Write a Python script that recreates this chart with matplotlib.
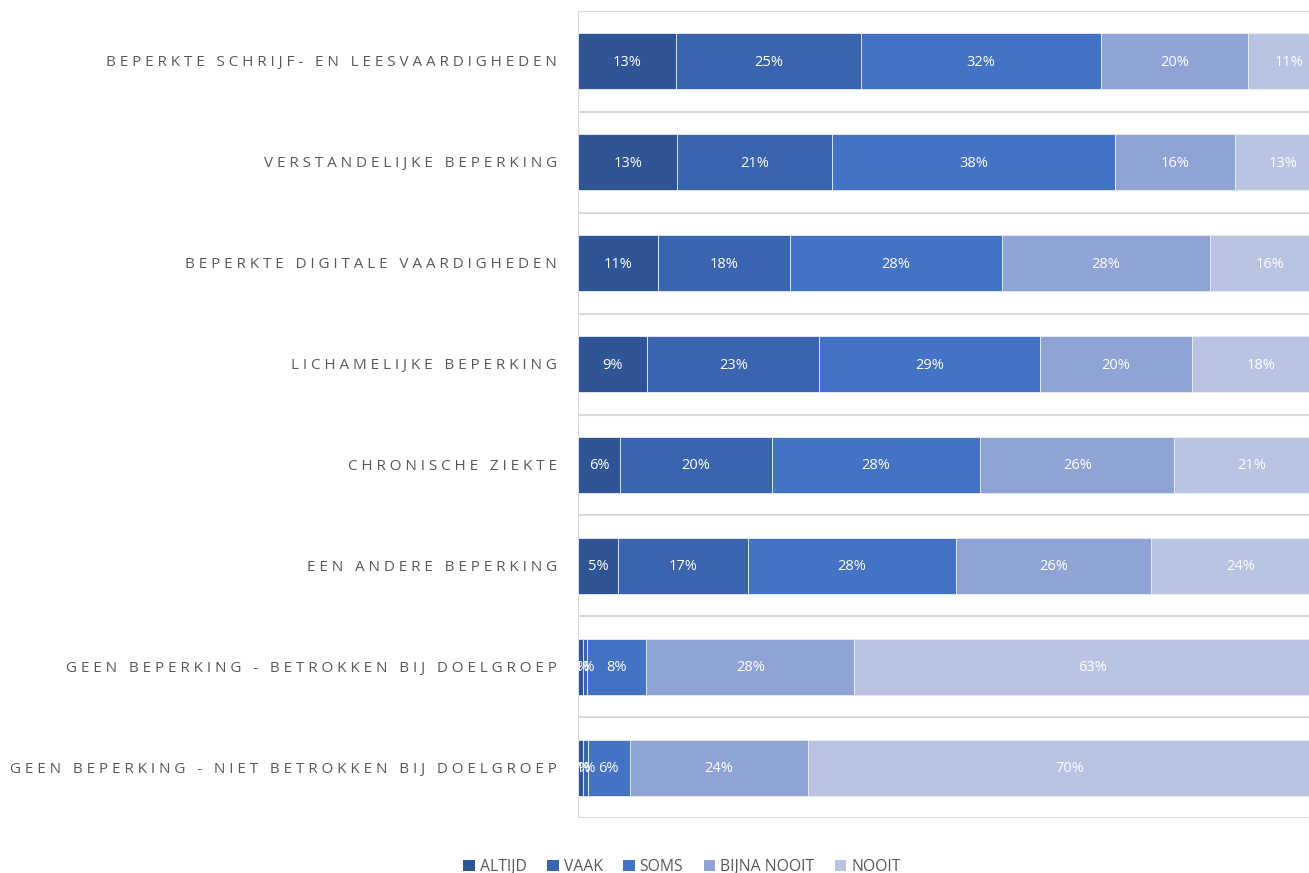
import matplotlib
matplotlib.use("Agg")
import matplotlib.pyplot as plt
from matplotlib.patches import Patch

categories = [
    "BEPERKTE SCHRIJF- EN LEESVAARDIGHEDEN",
    "VERSTANDELIJKE BEPERKING",
    "BEPERKTE DIGITALE VAARDIGHEDEN",
    "LICHAMELIJKE BEPERKING",
    "CHRONISCHE ZIEKTE",
    "EEN ANDERE BEPERKING",
    "GEEN BEPERKING - BETROKKEN BIJ DOELGROEP",
    "GEEN BEPERKING - NIET BETROKKEN BIJ DOELGROEP",
]
series_names = ["ALTIJD", "VAAK", "SOMS", "BIJNA NOOIT", "NOOIT"]
altijd = [13.0, 13.2, 10.6, 9.2, 5.6, 5.3, 0.6, 0.7]
vaak = [24.6, 20.6, 17.6, 22.9, 20.2, 17.3, 0.6, 0.6]
soms = [31.9, 37.6, 28.2, 29.3, 27.7, 27.7, 7.9, 5.6]
bijna_nooit = [19.6, 16.0, 27.6, 20.3, 25.8, 25.9, 27.6, 23.7]
nooit = [10.9, 12.6, 16.0, 18.3, 20.7, 23.8, 63.4, 69.7]
series = [altijd, vaak, soms, bijna_nooit, nooit]
colors = ["#2F5597", "#3A64AD", "#4472C4", "#8FA3D4", "#B9C3E2"]

W, H = 1309, 873
fig = plt.figure(figsize=(W / 100, H / 100), dpi=100)
ax = fig.add_axes([578 / W, 1 - 818 / H, (1330 - 578) / W, (818 - 11) / H])

ys = list(range(len(categories)))
left = [0.0] * len(categories)
for name, vals, col in zip(series_names, series, colors):
    ax.barh(ys, vals, left=left, height=0.555, color=col,
            edgecolor="#e8ecf6", linewidth=0.6, label=name, zorder=3)
    for y, v, l in zip(ys, vals, left):
        ax.text(l + v / 2, y + 0.01, "{:.0f}%".format(v), ha="center", va="center",
                color="white", fontsize=10.5, family=["Open Sans", "DejaVu Sans"], zorder=4)
    left = [a + b for a, b in zip(left, vals)]

ax.set_xlim(0, 100)
ax.set_ylim(len(categories) - 0.5, -0.5)
for i in range(len(categories) + 1):
    ax.axhline(i - 0.5, color="#d9d9d9", linewidth=1.5, zorder=1)
ax.axvline(0, color="#d9d9d9", linewidth=1.5, zorder=1)
for s in ax.spines.values():
    s.set_visible(False)
ax.set_xticks([])
ax.set_yticks([])

sp = "\u2005"
for y, c in zip(ys, categories):
    ax.text(-0.028, y + 0.015, sp.join(c), transform=ax.get_yaxis_transform(),
            ha="right", va="center", color="#595959", fontsize=11.0,
            family=["Open Sans", "DejaVu Sans"])

handles = [Patch(facecolor=c, edgecolor="none") for c in colors]
fig.legend(handles, series_names, loc="center", bbox_to_anchor=(682 / W, 1 - 867 / H),
           ncol=5, frameon=False, handlelength=0.75, handleheight=0.75,
           handletextpad=0.3, columnspacing=1.3,
           prop={"family": ["Open Sans", "DejaVu Sans"], "size": 11.3},
           labelcolor="#595959")

fig.savefig("out.png", dpi=100)
